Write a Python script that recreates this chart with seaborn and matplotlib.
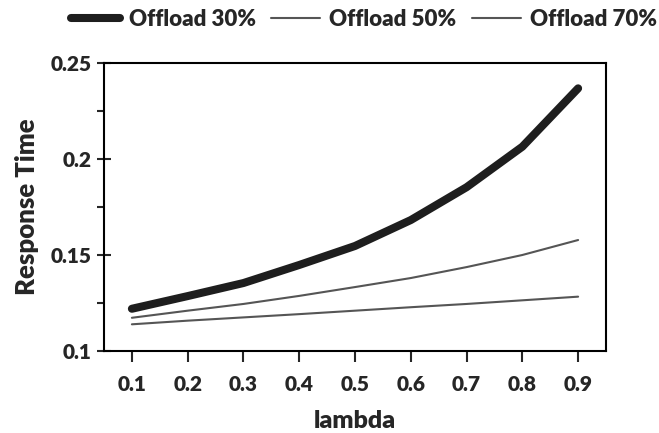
import matplotlib
matplotlib.use("Agg")
import matplotlib.pyplot as plt
import seaborn as sns
import pandas as pd
from matplotlib.ticker import MultipleLocator

lam = [0.1, 0.2, 0.3, 0.4, 0.5, 0.6, 0.7, 0.8, 0.9]
offload30 = [0.122, 0.1286, 0.1354, 0.1448, 0.1547, 0.1682, 0.1853, 0.2064, 0.2368]
offload50 = [0.1173, 0.121, 0.1245, 0.1287, 0.1333, 0.138, 0.1437, 0.150, 0.1578]
offload70 = [0.1139, 0.1158, 0.1175, 0.1192, 0.121, 0.1228, 0.1245, 0.1264, 0.1283]
series_names = ["Offload 30%", "Offload 50%", "Offload 70%"]

sns.set_style("ticks")
plt.rcParams['font.family'] = ['Lato', 'DejaVu Sans']
W = 'heavy'

df = pd.DataFrame({
    "lambda": lam * 3,
    "rt": offload30 + offload50 + offload70,
    "series": sum([[n] * len(lam) for n in series_names], []),
})

fig = plt.figure(figsize=(6.59, 4.33), dpi=100)
ax = fig.add_axes([104/659, 1 - 351/433, (606-104)/659, (351-63)/433])

styles = {
    "Offload 30%": dict(color="#1e1e1e", lw=5.8),
    "Offload 50%": dict(color="#555555", lw=1.5),
    "Offload 70%": dict(color="#555555", lw=1.5),
}
for name in series_names:
    sub = df[df["series"] == name]
    sns.lineplot(data=sub, x="lambda", y="rt", ax=ax, label=name,
                 color=styles[name]["color"], linewidth=styles[name]["lw"],
                 solid_capstyle="round")

ax.set_xlim(0.05, 0.95)
ax.set_ylim(0.1, 0.25)
ax.set_xticks(lam)
ax.set_xticklabels([str(v) for v in lam])
ax.set_yticks([0.1, 0.15, 0.2, 0.25])
ax.set_yticklabels(["0.1", "0.15", "0.2", "0.25"])
ax.yaxis.set_minor_locator(MultipleLocator(0.025))
ax.tick_params(axis='y', which='major', direction='inout', length=10, width=1.5, labelsize=15, pad=4)
ax.tick_params(axis='y', which='minor', direction='out', length=5, width=1.5)
ax.tick_params(axis='x', which='major', direction='out', length=8, width=1.5, labelsize=15, pad=9)
for lab in ax.get_xticklabels() + ax.get_yticklabels():
    lab.set_fontweight(W)
for s in ax.spines.values():
    s.set_linewidth(1.5)
    s.set_color("black")

ax.set_xlabel("lambda", fontsize=18, fontweight=W, labelpad=12)
ax.set_ylabel("Response Time", fontsize=18.5, fontweight=W, labelpad=8)

handles, labels = ax.get_legend_handles_labels()
ax.legend_.remove()
fig.legend(handles, labels, loc="center", bbox_to_anchor=(0.552, 1 - 19/433), ncol=3,
           frameon=False, handlelength=2.2, columnspacing=0.7,
           handletextpad=0.4, prop={'weight': W, 'size': 16})

fig.savefig("out.png", dpi=100)
